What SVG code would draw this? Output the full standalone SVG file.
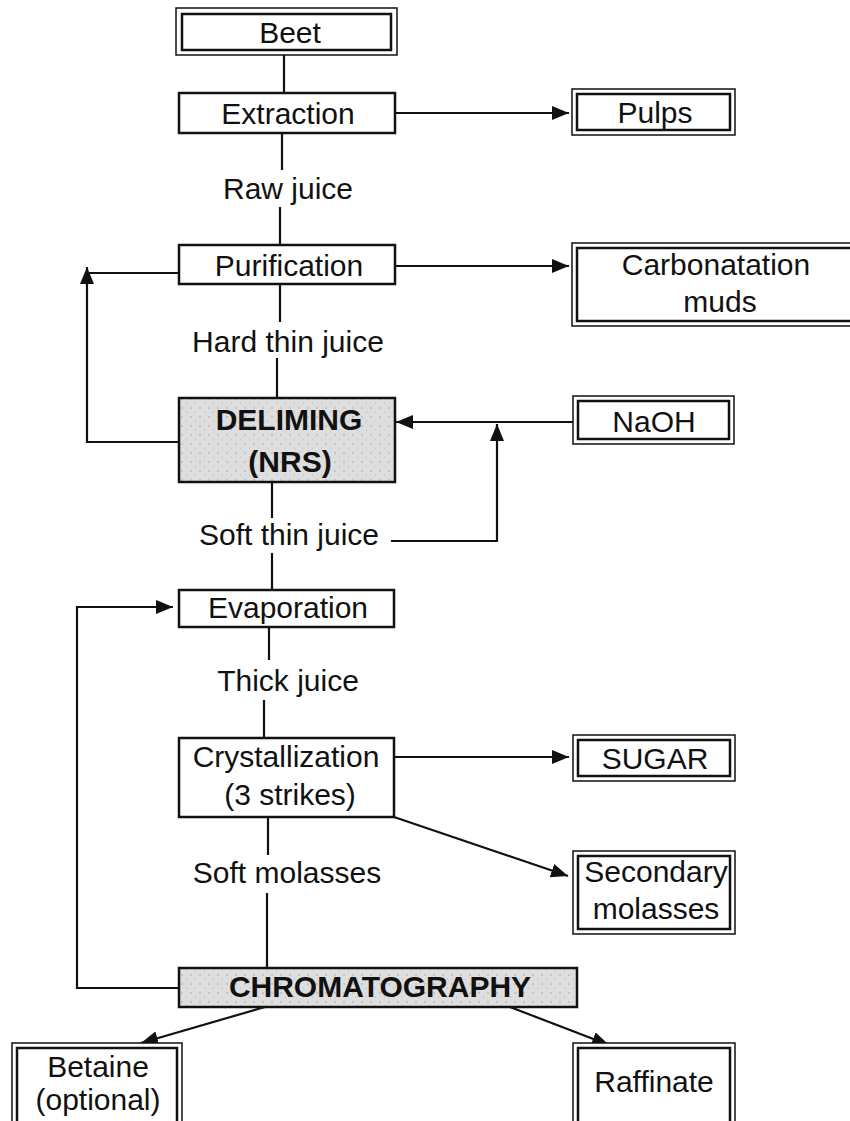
<svg xmlns="http://www.w3.org/2000/svg" width="850" height="1121" viewBox="0 0 850 1121">
<style>
text{font-family:"Liberation Sans",Arial,sans-serif;font-size:30px;fill:#111;text-anchor:middle}
.b{font-weight:bold}
.box{fill:#fff;stroke:#111;stroke-width:2.5}
.gray{fill:#dcdcdc;stroke:#111;stroke-width:2.5}
.outer{fill:#fff;stroke:#111;stroke-width:1.5}
.inner{fill:none;stroke:#111;stroke-width:2.5}
.c{fill:none;stroke:#111;stroke-width:2.2}
</style>
<defs>
<marker id="ah" markerUnits="userSpaceOnUse" markerWidth="18" markerHeight="16" refX="17" refY="7" orient="auto">
<path d="M0,0 L17,7 L0,14 Z" fill="#111"/>
</marker>
<pattern id="speck" width="9" height="9" patternUnits="userSpaceOnUse">
<rect width="9" height="9" fill="#dedede"/>
<circle cx="2" cy="3" r="0.7" fill="#9a9a9a"/>
<circle cx="6.5" cy="7" r="0.6" fill="#b0b0b0"/>
</pattern>
</defs>
<rect width="850" height="1121" fill="#fff"/>

<g id="connectors">
<line class="c" x1="284" y1="55" x2="284" y2="93"/>
<line class="c" x1="282" y1="133" x2="282" y2="170"/>
<line class="c" x1="280" y1="207" x2="280" y2="245"/>
<line class="c" x1="280" y1="284" x2="280" y2="322"/>
<line class="c" x1="277" y1="358" x2="277" y2="398"/>
<line class="c" x1="272" y1="482" x2="272" y2="518"/>
<line class="c" x1="272" y1="553" x2="272" y2="590"/>
<line class="c" x1="269" y1="627" x2="269" y2="660"/>
<line class="c" x1="264" y1="700" x2="264" y2="738"/>
<line class="c" x1="268" y1="817" x2="268" y2="855"/>
<line class="c" x1="267" y1="893" x2="267" y2="968"/>
<line class="c" x1="395" y1="113" x2="569" y2="113" marker-end="url(#ah)"/>
<line class="c" x1="395" y1="266" x2="569" y2="266" marker-end="url(#ah)"/>
<line class="c" x1="394" y1="757" x2="569" y2="757" marker-end="url(#ah)"/>
<line class="c" x1="394" y1="817" x2="568" y2="876" marker-end="url(#ah)"/>
<line class="c" x1="573" y1="422" x2="396" y2="422" marker-end="url(#ah)"/>
<polyline class="c" points="391,541 497,541 497,424" marker-end="url(#ah)"/>
<line class="c" x1="179" y1="273" x2="87" y2="273"/>
<polyline class="c" points="178,442 87,442 87,267" marker-end="url(#ah)"/>
<polyline class="c" points="179,988 77,988 77,607 173,607" marker-end="url(#ah)"/>
<line class="c" x1="265" y1="1007" x2="141" y2="1043" marker-end="url(#ah)"/>
<line class="c" x1="510" y1="1007" x2="609" y2="1045" marker-end="url(#ah)"/>
</g>

<g id="beet">
<rect class="outer" x="176" y="8" width="221" height="47"/>
<rect class="inner" x="182" y="14" width="209" height="36"/>
<text x="290" y="43">Beet</text>
</g>
<g id="extraction">
<rect class="box" x="179" y="93" width="216" height="40"/>
<text x="288" y="124">Extraction</text>
</g>
<g id="pulps">
<rect class="outer" x="572" y="89" width="163" height="46"/>
<rect class="inner" x="577" y="94" width="153" height="36"/>
<text x="655" y="123">Pulps</text>
</g>
<g id="raw-juice"><text x="288" y="199">Raw juice</text></g>
<g id="purification">
<rect class="box" x="179" y="245" width="216" height="39"/>
<text x="289" y="276">Purification</text>
</g>
<g id="carbonatation-muds">
<rect class="outer" x="572" y="243" width="290" height="83"/>
<rect class="inner" x="577" y="248" width="280" height="73"/>
<text x="716" y="275">Carbonatation</text>
<text x="720" y="312">muds</text>
</g>
<g id="hard-thin-juice"><text x="288" y="352">Hard thin juice</text></g>
<g id="deliming">
<rect class="gray" x="179" y="398" width="216" height="84" style="fill:url(#speck)"/>
<text class="b" x="289" y="430">DELIMING</text>
<text class="b" x="290" y="472">(NRS)</text>
</g>
<g id="naoh">
<rect class="outer" x="573" y="396" width="161" height="48"/>
<rect class="inner" x="578" y="401" width="151" height="38"/>
<text x="654" y="432">NaOH</text>
</g>
<g id="soft-thin-juice"><text x="289" y="545">Soft thin juice</text></g>
<g id="evaporation">
<rect class="box" x="179" y="590" width="215" height="37"/>
<text x="288" y="618">Evaporation</text>
</g>
<g id="thick-juice"><text x="288" y="691">Thick juice</text></g>
<g id="crystallization">
<rect class="box" x="179" y="738" width="215" height="79"/>
<text x="286" y="767">Crystallization</text>
<text x="290" y="805">(3 strikes)</text>
</g>
<g id="sugar">
<rect class="outer" x="573" y="735" width="162" height="46"/>
<rect class="inner" x="578" y="740" width="152" height="36"/>
<text x="655" y="769">SUGAR</text>
</g>
<g id="soft-molasses"><text x="287" y="883">Soft molasses</text></g>
<g id="secondary-molasses">
<rect class="outer" x="573" y="851" width="162" height="83"/>
<rect class="inner" x="578" y="856" width="152" height="73"/>
<text x="656" y="882">Secondary</text>
<text x="656" y="919">molasses</text>
</g>
<g id="chromatography">
<rect class="gray" x="179" y="968" width="398" height="39" style="fill:url(#speck)"/>
<text class="b" x="380" y="997">CHROMATOGRAPHY</text>
</g>
<g id="betaine">
<rect class="outer" x="12" y="1043" width="170" height="90"/>
<rect class="inner" x="17" y="1048" width="160" height="80"/>
<text x="98" y="1077">Betaine</text>
<text x="98" y="1110">(optional)</text>
</g>
<g id="raffinate">
<rect class="outer" x="573" y="1043" width="162" height="90"/>
<rect class="inner" x="578" y="1048" width="152" height="80"/>
<text x="654" y="1092">Raffinate</text>
</g>
</svg>
